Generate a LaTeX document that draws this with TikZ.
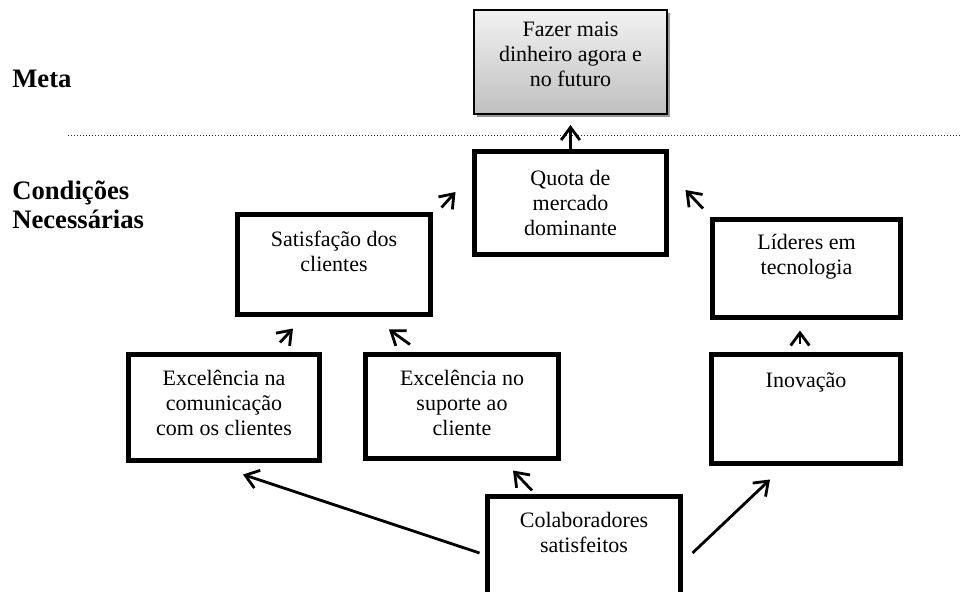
\documentclass[tikz,border=0pt]{standalone}
\usepackage{fontspec}
\setmainfont{Liberation Serif}
\usetikzlibrary{arrows.meta,shadows}
\begin{document}
\begin{tikzpicture}[x=0.75pt,y=-0.75pt,
  box/.style={draw=black,line width=3.75pt,fill=white,inner sep=0pt},
  txt/.style={font=\fontsize{16.5}{18.75}\selectfont,align=center,inner sep=0pt,anchor=north},
  lbl/.style={font=\fontsize{20}{21.75}\selectfont\bfseries,align=left,inner sep=0pt},
  arr/.style={-{Straight Barb[length=9.5pt,width=14pt]},line width=2.1pt},
  sep/.style={line width=0.75pt,black!80,dash pattern=on 1.1pt off 1.15pt}
]
\useasboundingbox (0,0) rectangle (961,592);
\clip (0,0) rectangle (961,592);

% labels
\node[lbl,anchor=base west] (lmeta) at (12,88) {Meta};
\node[lbl,anchor=north west] (lcond) at (12,181) {Condições\\Necessárias};

% separator
\coordinate (sepA) at (68,136);
\coordinate (sepB) at (961,136);
\draw[sep] (sepA) -- (sepB);

% goal box
\node[draw=black,line width=1.5pt,minimum width=144.75pt,minimum height=78pt,inner sep=0pt,
      top color=black!5,bottom color=black!25,
      drop shadow={shadow xshift=2.4pt,shadow yshift=-2.4pt,fill=black!40,opacity=1}]
      (metabox) at (570.5,62) {};
\node[txt] (metabox-t) at (570.5,22) {Fazer mais\\dinheiro agora e\\no futuro};

% boxes
\node[box,minimum width=144pt,minimum height=77.25pt] (quota) at (570.5,203) {};
\node[txt] (quota-t) at (570.5,170) {Quota de\\mercado\\dominante};

\node[box,minimum width=144.75pt,minimum height=75pt] (satis) at (334,264.5) {};
\node[txt] (satis-t) at (334,231) {Satisfação dos\\clientes};

\node[box,minimum width=141pt,minimum height=73.5pt] (lider) at (806.5,268.5) {};
\node[txt] (lider-t) at (806.5,234) {Líderes em\\tecnologia};

\node[box,minimum width=143.25pt,minimum height=79.5pt] (excom) at (224,407.5) {};
\node[txt] (excom-t) at (224,370) {Excelência na\\comunicação\\com os clientes};

\node[box,minimum width=144.75pt,minimum height=78pt] (exsup) at (462,406.5) {};
\node[txt] (exsup-t) at (462,370) {Excelência no\\suporte ao\\cliente};

\node[box,minimum width=141.75pt,minimum height=81.75pt] (inov) at (806,409) {};
\node[txt] (inov-t) at (806,372) {Inovação};

\node[box,minimum width=144.75pt,minimum height=82.5pt] (colab) at (584,551.5) {};
\node[txt] (colab-t) at (584,512) {Colaboradores\\satisfeitos};

% connectors
\draw[arr] (quota.north) -- ([shift={(0,10)}]metabox.south);
\draw[arr] ([shift={(8.5,-4.5)}]satis.north east) -- ([shift={(-16.5,-11)}]quota.west);
\draw[arr] ([shift={(-7,-8.5)}]lider.north west) -- ([shift={(16.5,-13)}]quota.east);
\draw[arr] ([shift={(56,-9.5)}]excom.north) -- ([shift={(-41,11.5)}]satis.south);
\draw[arr] ([shift={(-52,-7.5)}]exsup.north) -- ([shift={(55,12.5)}]satis.south);
\draw[arr] ([shift={(-6,-8.5)}]inov.north) -- ([shift={(-6.5,10.5)}]lider.south);
\draw[arr] ([shift={(-5.5,1.5)}]colab.west) -- ([shift={(19,11.5)}]excom.south);
\draw[arr] ([shift={(-52,-3.5)}]colab.north) -- ([shift={(51,9.5)}]exsup.south);
\draw[arr] ([shift={(9.5,1.5)}]colab.east) -- ([shift={(-36,13.5)}]inov.south);
\end{tikzpicture}
\end{document}
